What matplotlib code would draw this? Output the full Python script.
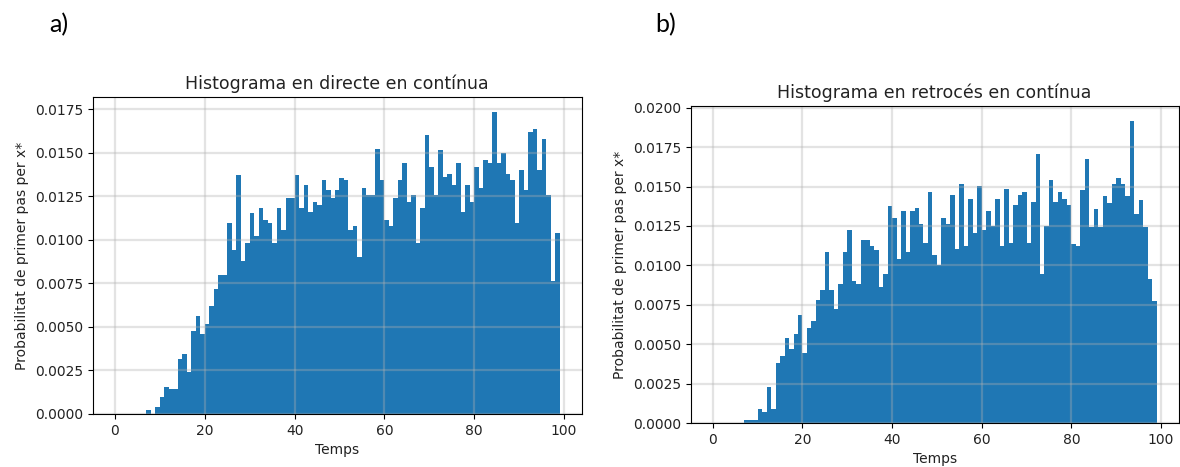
import numpy as np
import matplotlib
matplotlib.use('Agg')
import matplotlib.pyplot as plt

# Bin edges: unit-wide bins over the time range 0..99
edges = np.arange(0, 100)

# Probability per bin, bins 0..98
directe = [0, 0, 0, 0, 0, 0, 0, 0.00023, 0, 0.00038,
           0.0010, 0.00157, 0.00142, 0.00142, 0.00317, 0.00343, 0.00244, 0.00478, 0.0056, 0.0046,
           0.00518, 0.00618, 0.0072, 0.00796, 0.00796, 0.01097, 0.0094, 0.01374, 0.00881, 0.00982,
           0.01155, 0.01025, 0.01182, 0.01113, 0.01097, 0.00982, 0.01182, 0.01059, 0.01239, 0.01241,
           0.01374, 0.01184, 0.01314, 0.01159, 0.01216, 0.01201, 0.01343, 0.01285, 0.01241, 0.01285,
           0.01358, 0.01343, 0.01059, 0.01078, 0.0090, 0.01299, 0.01259, 0.01259, 0.0152, 0.01343,
           0.01117, 0.01082, 0.01241, 0.01343, 0.01443, 0.01218, 0.01257, 0.00982, 0.01184, 0.01602,
           0.01418, 0.01257, 0.01516, 0.0136, 0.01376, 0.01318, 0.01443, 0.01159, 0.01314, 0.01218,
           0.01418, 0.01299, 0.01458, 0.01443, 0.01734, 0.01443, 0.0150, 0.01376, 0.01343, 0.01097,
           0.0140, 0.01285, 0.01621, 0.01635, 0.0140, 0.01577, 0.01259, 0.00762, 0.0104]

retroces = [0, 0, 0, 0, 0, 0, 0, 0.00019, 0.00019, 0.00019,
            0.00087, 0.00068, 0.00227, 0.00087, 0.00381, 0.00428, 0.00538, 0.00468, 0.00566, 0.00686,
            0.00447, 0.00602, 0.00644, 0.00778, 0.00841, 0.01085, 0.00841, 0.00725, 0.00881, 0.01085,
            0.01222, 0.00898, 0.00881, 0.01159, 0.01159, 0.01125, 0.0110, 0.00862, 0.00947, 0.01379,
            0.01301, 0.0104, 0.01343, 0.01087, 0.01343, 0.01364, 0.01263, 0.01142, 0.01464, 0.01068,
            0.01004, 0.01301, 0.01263, 0.01445, 0.01104, 0.01519, 0.01125, 0.01422, 0.01205, 0.01502,
            0.01227, 0.01343, 0.01248, 0.01422, 0.01125, 0.01485, 0.01142, 0.01381, 0.01445, 0.01464,
            0.01142, 0.0140, 0.01708, 0.00947, 0.01248, 0.0154, 0.01403, 0.01464, 0.01422, 0.01383,
            0.01138, 0.01123, 0.01481, 0.01674, 0.01244, 0.0136, 0.01244, 0.01441, 0.01396, 0.01515,
            0.01555, 0.01515, 0.01441, 0.01915, 0.01324, 0.01417, 0.01244, 0.00915, 0.00773]

titles = ['Histograma en directe en contínua', 'Histograma en retrocés en contínua']
panel_labels = ['a)', 'b)']

fig = plt.figure(figsize=(11.8, 4.67), dpi=100)
ax1 = fig.add_axes([0.0786, 0.1135, 0.4144, 0.6788])
ax2 = fig.add_axes([0.5853, 0.0942, 0.4136, 0.6788])

for ax, vals, title in zip([ax1, ax2], [directe, retroces], titles):
    ax.hist(edges[:-1], bins=edges, weights=vals, color='#1f77b4')
    ax.set_title(title, fontsize=12.5, color='#222222')
    ax.set_xlabel('Temps', color='#222222')
    ax.set_ylabel('Probabilitat de primer pas per x*', color='#222222')
    ax.tick_params(labelcolor='#222222')
    ax.grid(True, linewidth=1.6, alpha=0.35)

fig.text(0.042, 0.948, panel_labels[0], fontsize=18, family='Lato', va='center')
fig.text(0.555, 0.948, panel_labels[1], fontsize=18, family='Lato', va='center')

fig.savefig('out.png', dpi=100)
